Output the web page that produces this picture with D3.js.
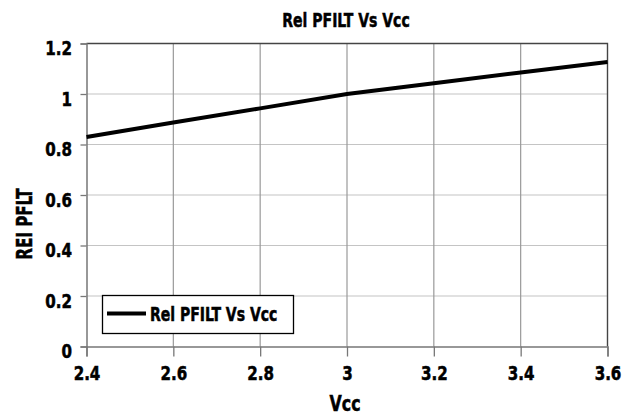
<!DOCTYPE html>
<html><head><meta charset="utf-8">
<script src="https://cdn.jsdelivr.net/npm/d3@7"></script>
<style>body{margin:0;background:#fff}</style>
</head><body>
<svg id="c" width="631" height="416"></svg>
<script>
const vcc = [2.4, 2.6, 2.8, 3.0, 3.2, 3.4, 3.6];
const relPfilt = [0.83, 0.887, 0.943, 1.0, 1.043, 1.085, 1.127];
const xTicks = [2.4, 2.6, 2.8, 3.0, 3.2, 3.4, 3.6];
const yTicks = [0, 0.2, 0.4, 0.6, 0.8, 1.0, 1.2];
const seriesName = "Rel PFILT Vs Vcc";

const font = "'DejaVu Sans Condensed','DejaVu Sans',sans-serif";
const SX = 0.84; // horizontal condensing
const svg = d3.select("#c");
const L = 86.5, R = 607.5, T = 43.5, B = 346.5;
const x = d3.scaleLinear().domain([2.4, 3.6]).range([L, R]);
const y = d3.scaleLinear().domain([0, 1.2]).range([B, T]);

// grid
svg.append("g").selectAll("line").data(yTicks.slice(1)).join("line")
  .attr("x1", L).attr("x2", R).attr("y1", d => y(d)).attr("y2", d => y(d))
  .attr("stroke", "#c4c4c4").attr("stroke-width", 1.2);
svg.append("g").selectAll("line").data(xTicks.slice(1)).join("line")
  .attr("x1", d => x(d)).attr("x2", d => x(d)).attr("y1", T).attr("y2", B)
  .attr("stroke", "#999").attr("stroke-width", 1.2);
svg.append("path").attr("d", `M${L},${T}H${R}V${B}`).attr("fill", "none").attr("stroke", "#444").attr("stroke-width", 1.3);

// axes
const xa = svg.append("g").attr("transform", `translate(0,${B})`)
  .call(d3.axisBottom(x).tickValues(xTicks).tickSize(10).tickFormat(d3.format("~g")));
const ya = svg.append("g").attr("transform", `translate(${L},0)`)
  .call(d3.axisLeft(y).tickValues(yTicks).tickSize(6).tickFormat(d3.format("~g")));
[xa, ya].forEach(a => {
  a.select(".domain").attr("stroke", "#777").attr("stroke-width", 1.5);
  a.selectAll(".tick line").attr("stroke", "#777").attr("stroke-width", 1.3);
  a.selectAll("text").attr("font-family", font).attr("font-weight", "bold")
    .attr("font-size", 20).attr("fill", "#000").attr("stroke", "#000").attr("stroke-width", 0.5)
    .attr("transform", `scale(${SX},1)`);
});
xa.selectAll("text").attr("y", 34).attr("dy", 0).attr("x", 0);
ya.selectAll("text").attr("x", -14.5 / SX).attr("dy", 11).attr("text-anchor", "end");

// line
svg.append("path").datum(vcc.map((v, i) => [v, relPfilt[i]]))
  .attr("d", d3.line().x(d => x(d[0])).y(d => y(d[1])))
  .attr("fill", "none").attr("stroke", "#000").attr("stroke-width", 4);

function label(tx, ty, rot, size, txt, sx) {
  svg.append("g").attr("transform", `translate(${tx},${ty}) rotate(${rot}) scale(${sx},1)`)
    .append("text").attr("text-anchor", "middle").attr("font-family", font)
    .attr("font-weight", "bold").attr("font-size", size)
    .attr("stroke", "#000").attr("stroke-width", 0.5).text(txt);
}
label(346, 27, 0, 20, "Rel PFILT Vs Vcc", 0.78);
label(345, 411, 0, 21, "Vcc", 0.84);
label(32, 224, -90, 21, "REI PFLT", 0.8);

// legend
const lg = svg.append("g");
lg.append("rect").attr("x", 102.5).attr("y", 295.5).attr("width", 191).attr("height", 38)
  .attr("fill", "#fff").attr("stroke", "#000").attr("stroke-width", 1.3);
lg.append("line").attr("x1", 107).attr("x2", 146).attr("y1", 313.5).attr("y2", 313.5)
  .attr("stroke", "#000").attr("stroke-width", 4);
lg.append("g").attr("transform", `translate(150,321) scale(0.78,1)`)
  .append("text").attr("font-family", font).attr("font-weight", "bold")
  .attr("font-size", 20).attr("stroke", "#000").attr("stroke-width", 0.5).text(seriesName);
</script>
</body></html>
